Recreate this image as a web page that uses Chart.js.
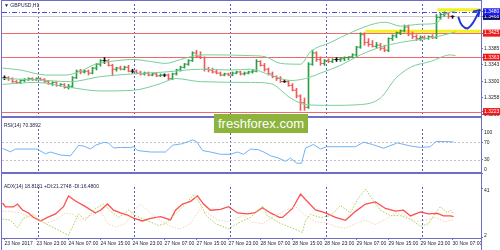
<!DOCTYPE html>
<html>
<head>
<meta charset="utf-8">
<script src="https://cdn.jsdelivr.net/npm/chart.js@4.4.1/dist/chart.umd.min.js"></script>
<style>
  html, body { margin: 0; padding: 0; background: #fff; }
  #wrap { position: relative; width: 500px; height: 250px; overflow: hidden; font-family: 'Liberation Sans', Arial, sans-serif; }
  canvas { position: absolute; left: 0; }
  #cMain { top: 0; }
  #cRsi { top: 121px; }
  #cAdx { top: 181px; }
  .lbl { position: absolute; left: 4px; font-size: 5px; line-height: 5px; color: #22224a; white-space: nowrap; }
  #logo { position: absolute; left: 214px; top: 114px; width: 94px; height: 19px; background: #8cb43c; color: #fff;
          font-size: 13px; line-height: 19px; text-align: center; }
</style>
</head>
<body>
<div id="wrap">
  <canvas id="cMain" width="500" height="121"></canvas>
  <canvas id="cRsi" width="500" height="60"></canvas>
  <canvas id="cAdx" width="500" height="69"></canvas>
  <div class="lbl" style="top:3px">▼ GBPUSD,H1</div>
  <div class="lbl" style="top:123px">RSI(14) 70.3892</div>
  <div class="lbl" style="top:184px">ADX(14) 18.8181 +DI:21.2748 -DI:16.4800</div>
  <div id="logo">freshforex.com</div>
</div>
<script>
// ---- data: H1 bars, 23 Nov 15:00 .. 30 Nov 07:00 (bar index 0..112) ----
const barOpen = [
  1.3310,1.3310,1.3308,1.3300,1.3298,1.3303,1.3305,1.3308,1.3305,1.3308,
  1.3305,1.3300,1.3295,1.3298,1.3290,1.3293,1.3285,1.3288,1.3310,1.3327,
  1.3325,1.3327,1.3322,1.3335,1.3345,1.3354,1.3354,1.3342,1.3332,1.3335,
  1.3332,1.3337,1.3327,1.3327,1.3322,1.3320,1.3322,1.3317,1.3320,1.3315,
  1.3317,1.3317,1.3308,1.3320,1.3330,1.3337,1.3345,1.3354,1.3374,1.3364,
  1.3362,1.3332,1.3330,1.3325,1.3322,1.3317,1.3320,1.3317,1.3322,1.3325,
  1.3320,1.3322,1.3325,1.3327,1.3352,1.3342,1.3332,1.3320,1.3313,1.3308,
  1.3300,1.3300,1.3290,1.3278,1.3263,1.3246,1.3234,1.3345,1.3374,1.3357,
  1.3347,1.3354,1.3352,1.3357,1.3357,1.3359,1.3362,1.3364,1.3369,1.3389,
  1.3421,1.3401,1.3396,1.3391,1.3394,1.3386,1.3381,1.3411,1.3418,1.3426,
  1.3431,1.3441,1.3423,1.3416,1.3411,1.3413,1.3411,1.3416,1.3413,1.3465,
  1.3473,1.3475,1.3468
];
const barHigh = [
  1.3315,1.3313,1.3310,1.3303,1.3305,1.3308,1.3310,1.3310,1.3310,1.3310,
  1.3308,1.3303,1.3300,1.3300,1.3295,1.3295,1.3293,1.3313,1.3330,1.3332,
  1.3330,1.3330,1.3337,1.3347,1.3357,1.3362,1.3357,1.3345,1.3337,1.3340,
  1.3340,1.3342,1.3332,1.3330,1.3327,1.3325,1.3325,1.3322,1.3322,1.3320,
  1.3320,1.3320,1.3322,1.3332,1.3340,1.3347,1.3357,1.3377,1.3381,1.3377,
  1.3364,1.3337,1.3335,1.3330,1.3325,1.3322,1.3322,1.3325,1.3327,1.3327,
  1.3325,1.3327,1.3330,1.3357,1.3354,1.3347,1.3335,1.3325,1.3315,1.3313,
  1.3305,1.3303,1.3295,1.3283,1.3266,1.3258,1.3349,1.3381,1.3377,1.3364,
  1.3357,1.3359,1.3359,1.3362,1.3362,1.3364,1.3364,1.3372,1.3391,1.3426,
  1.3426,1.3411,1.3406,1.3401,1.3399,1.3394,1.3413,1.3421,1.3428,1.3433,
  1.3446,1.3446,1.3428,1.3421,1.3418,1.3418,1.3418,1.3421,1.3473,1.3477,
  1.3480,1.3477,1.3470
];
const barLow = [
  1.3305,1.3303,1.3298,1.3295,1.3295,1.3300,1.3303,1.3303,1.3303,1.3303,
  1.3298,1.3293,1.3290,1.3288,1.3288,1.3283,1.3281,1.3285,1.3308,1.3320,
  1.3322,1.3317,1.3320,1.3330,1.3340,1.3347,1.3340,1.3315,1.3327,1.3330,
  1.3330,1.3325,1.3322,1.3320,1.3317,1.3317,1.3315,1.3315,1.3313,1.3313,
  1.3313,1.3305,1.3305,1.3317,1.3327,1.3335,1.3342,1.3352,1.3362,1.3359,
  1.3327,1.3325,1.3322,1.3320,1.3315,1.3315,1.3315,1.3315,1.3320,1.3317,
  1.3317,1.3320,1.3322,1.3325,1.3340,1.3327,1.3317,1.3310,1.3303,1.3298,
  1.3298,1.3288,1.3276,1.3258,1.3226,1.3226,1.3231,1.3342,1.3352,1.3342,
  1.3342,1.3349,1.3349,1.3352,1.3352,1.3354,1.3357,1.3362,1.3362,1.3386,
  1.3394,1.3391,1.3389,1.3386,1.3381,1.3377,1.3377,1.3406,1.3413,1.3421,
  1.3428,1.3418,1.3411,1.3406,1.3406,1.3409,1.3409,1.3411,1.3411,1.3460,
  1.3468,1.3463,1.3463
];
const barClose = [
  1.3310,1.3308,1.3300,1.3298,1.3303,1.3305,1.3308,1.3305,1.3308,1.3305,
  1.3300,1.3295,1.3298,1.3290,1.3293,1.3285,1.3288,1.3310,1.3327,1.3325,
  1.3327,1.3322,1.3335,1.3345,1.3354,1.3354,1.3342,1.3332,1.3335,1.3332,
  1.3337,1.3327,1.3327,1.3322,1.3320,1.3322,1.3317,1.3320,1.3315,1.3317,
  1.3317,1.3308,1.3320,1.3330,1.3337,1.3345,1.3354,1.3374,1.3364,1.3362,
  1.3332,1.3330,1.3325,1.3322,1.3317,1.3320,1.3317,1.3322,1.3325,1.3320,
  1.3322,1.3325,1.3327,1.3352,1.3342,1.3332,1.3320,1.3313,1.3308,1.3300,
  1.3300,1.3290,1.3278,1.3263,1.3246,1.3234,1.3345,1.3374,1.3357,1.3347,
  1.3354,1.3352,1.3357,1.3357,1.3359,1.3362,1.3364,1.3369,1.3389,1.3421,
  1.3401,1.3396,1.3391,1.3394,1.3386,1.3381,1.3411,1.3418,1.3426,1.3431,
  1.3441,1.3423,1.3416,1.3411,1.3413,1.3411,1.3416,1.3413,1.3465,1.3473,
  1.3475,1.3468,1.3468
];

// Bollinger bands, [bar index, price]
const bbUpper = [[-0.5,1.3335],[4,1.3330],[10.25,1.3317],[15.25,1.3317],[19,1.3327],[22.75,1.3345],[26.5,1.3352],
  [32.25,1.3357],[36.5,1.3352],[40.25,1.3347],[44,1.3357],[47.75,1.3367],[51.5,1.3369],[61.5,1.3367],[65.25,1.3364],
  [69,1.3347],[74,1.3345],[76.5,1.3377],[81.5,1.3401],[86.5,1.3426],[92.75,1.3450],[95.25,1.3453],[99,1.3443],
  [104,1.3448],[107.75,1.3450],[110.25,1.3475],[112.75,1.3482]];
const bbMiddle = [[-0.5,1.3308],[7.75,1.3305],[16.5,1.3300],[24,1.3313],[32.25,1.3320],[40.25,1.3325],[49,1.3332],
  [56.5,1.3330],[61.5,1.3332],[66.5,1.3317],[71.5,1.3303],[75.25,1.3308],[79,1.3322],[84,1.3342],[89,1.3369],
  [94,1.3389],[99,1.3401],[104,1.3409],[109,1.3418],[112.75,1.3428]];
const bbLower = [[-0.5,1.3293],[7.75,1.3298],[16.5,1.3285],[24,1.3276],[32.25,1.3278],[39,1.3295],[42.75,1.3308],
  [49,1.3300],[61.5,1.3298],[66.5,1.3295],[71.5,1.3258],[75.25,1.3241],[81.5,1.3239],[89,1.3241],[94,1.3258],
  [97.75,1.3308],[101.5,1.3337],[106.5,1.3352],[111.5,1.3369],[112.75,1.3367]];

// RSI(14), [bar index, value]
const rsiLine = [[-0.5,55.7],[1.5,48.2],[2.75,54.5],[7.75,54.5],[8.25,53.7],[10.25,43.7],[11.5,47.7],[14,40.8],
  [16.5,39.1],[18.5,62.6],[19.75,61.4],[21.5,54.5],[22.75,63.1],[24.75,69.5],[26,68.3],[27.25,56.8],[29,58],
  [31.5,58],[32.25,59.7],[33.25,51.1],[36.5,47.7],[40.25,47.7],[42,63.1],[44.5,66.6],[47,75.1],[48,71.7],
  [49.5,51.1],[51.5,47.7],[54,42.5],[56.5,42.5],[58.25,47.7],[59.75,42.5],[61.5,54.5],[63.5,52.8],[65.25,46],
  [66.5,39.1],[68.5,34],[70.25,26.6],[71.5,34],[73,22.5],[74.25,22],[75.25,56.8],[77.25,64.8],[79,54.5],
  [80.5,59.7],[84,59.7],[87.75,59.7],[89.75,70],[92,64.8],[94.75,56.3],[98.25,68.3],[101.5,61.4],[104,58],
  [106.5,59.7],[107.75,71.2],[110.25,71.7],[112.25,70.4]];

// ADX(14) main line, +DI, -DI, [bar index, value]
const adxLine = [[-0.5,29.5],[0.25,26.4],[2.25,26.4],[3.25,28.7],[4.5,24.0],[6,21.65],[7.25,18.1],[9,15.3],
  [10.75,18.1],[12.75,20.9],[14.75,26.6],[16,35.1],[17.75,31.1],[20.25,26.6],[22.75,21.65],[24,23.8],[25.75,28.7],
  [27.25,23.8],[29,21.65],[30.75,20.0],[32.25,17.6],[34.5,15.3],[36.5,17.4],[39,18.8],[41.5,16.2],[42.75,23.8],
  [44.5,28.7],[46.5,30.8],[48.25,35.1],[49.75,28.7],[51.5,23.8],[54,24.5],[56,26.6],[58.25,21.65],[60.75,20.9],
  [62.5,21.65],[64.5,25.7],[66.5,21.65],[68.75,18.1],[69.5,18.1],[72,25.2],[74,36.5],[75.25,32.3],[77.75,24.0],
  [80.25,21.65],[82.75,18.1],[85.25,15.8],[87.75,22.9],[90.25,28.7],[92.75,30.35],[95.25,25.2],[97.75,23.1],
  [99.75,23.8],[101.5,19.3],[104,22.4],[106,20.9],[108.25,21.3],[109.75,19.3],[111.5,19.3],[112.25,18.8]];
const plusDi = [[-0.5,16.9],[1.5,16.0],[3.25,9.8],[4.75,17.4],[7.25,20.45],[9,15.3],[16,4.0],[18.5,20.9],
  [20.25,16.0],[22.75,25.2],[24.75,28.7],[26.5,23.1],[28.5,18.1],[31,23.8],[32.75,19.5],[35.25,16.0],[38.5,11.8],
  [40.25,13.2],[42.75,20.9],[45.25,28.7],[47.25,35.8],[49,28.7],[50.25,20.2],[52.75,13.2],[56,9.1],[59,14.6],
  [61.5,18.1],[64.5,27.1],[65.75,19.3],[69,13.4],[74.5,6.3],[75.25,16],[76.5,20.45],[79,18.1],[81.5,19.5],
  [84,27.5],[86.5,21.65],[88.25,32.3],[90.25,40.5],[92,32.3],[94,23.8],[96.5,19.5],[99,19.5],[101.5,16.7],
  [104,11.0],[106,13.2],[107.75,21.65],[109,26.6],[110.75,21.65],[111.5,24.0],[112.25,21.3]];
const minusDi = [[-0.5,23.1],[1.5,22.9],[4,21.65],[7.25,17.4],[10.25,13.4],[12.75,16.0],[15.25,21.65],[17.25,20.2],
  [19,16.0],[21.5,19.5],[24,23.1],[25.75,13.4],[27.75,10.55],[30.25,13.2],[32.25,23.1],[34,28.7],[36.5,21.65],
  [39,16.0],[41.5,11.0],[44,8.9],[46.5,13.2],[49,25.2],[50.75,21.65],[53.25,16.0],[56.5,14.6],[59.75,20.2],
  [61.5,14.6],[64.5,13.2],[67.75,19.5],[70.25,23.8],[72.75,26.6],[75.25,19.5],[77.75,14.6],[80.25,13.9],
  [82.75,11.0],[85.25,9.6],[87.75,13.2],[90.25,16.0],[92.75,12.5],[95.25,16.7],[97.75,21.65],[100.25,19.5],
  [102.75,14.6],[105.25,16.0],[107.75,18.1],[110.25,14.6],[112.25,16.5]];

// axis labels and levels
const priceTicks = [1.3215, 1.3258, 1.3300, 1.3343, 1.3385, 1.3223, 1.3363, 1.3425, 1.3468, 1.3480];
const markedPrices = [1.3480, 1.3468, 1.3425, 1.3363, 1.3223];
const markColors = ['#1c1cf0', '#0b0b6e', '#f01818', '#f01818', '#f01818'];
const redLevels = [1.3425, 1.3363, 1.3223];
const alertLevel = 1.3480;
const bidLevel = 1.3468;
const zoneStart = [108.25, 90.25];
const zoneLevel = [1.3485, 1.3430];
const signalArrow = [[113.5, 1.3465], [115.75, 1.3437], [118.75, 1.3484]];
const rsiTicks = [100, 70, 30, 0];
const rsiLevels = [70, 30];
const adxTicks = [41, 2];
const timeTickBars = [0, 8, 16, 24, 32, 40, 48, 56, 64, 72, 80, 88, 96, 104, 112];
const timeLabels = ['23 Nov 2017', '23 Nov 23:00', '24 Nov 07:00', '24 Nov 15:00', '24 Nov 23:00',
  '27 Nov 07:00', '27 Nov 15:00', '27 Nov 23:00', '28 Nov 07:00', '28 Nov 15:00', '28 Nov 23:00',
  '29 Nov 07:00', '29 Nov 15:00', '29 Nov 23:00', '30 Nov 07:00'];
const dayStartBars = [9, 33, 57, 81, 105];

// ---- styles ----
const FONT = "'Liberation Sans', Arial, sans-serif";
const FRAME = '#6e6ec6';
const SEP = '#5a5abc';
const BB = '#78cf98';
const X_MIN = -0.625, X_MAX = 119.125;

const pairs = arr => arr.map(([x, y]) => ({ x, y }));
const barColor = i => barClose[i] > barOpen[i] ? '#2a9e46' : (barClose[i] < barOpen[i] ? '#f05a5a' : '#111111');
const markIndex = v => markedPrices.findIndex(p => Math.abs(p - v) < 1e-6);

function hline(ctx, x1, x2, y) {
  ctx.beginPath(); ctx.moveTo(x1, y); ctx.lineTo(x2, y); ctx.stroke();
}

function panel(id, opts) {
  return {
    id,
    beforeDatasetsDraw(chart) {
      const { ctx, chartArea: a, scales: { x } } = chart;
      ctx.save();
      ctx.lineWidth = 1;
      ctx.strokeStyle = SEP;
      ctx.setLineDash([2, 2]);
      dayStartBars.forEach(b => {
        const px = Math.round(x.getPixelForValue(b - 0.7)) + 0.5;
        ctx.beginPath(); ctx.moveTo(px, a.top); ctx.lineTo(px, a.bottom); ctx.stroke();
      });
      ctx.setLineDash([]);
      if (opts.under) opts.under(chart, ctx);
      ctx.restore();
    },
    afterDatasetsDraw(chart) {
      if (!opts.over) return;
      chart.ctx.save();
      opts.over(chart, chart.ctx);
      chart.ctx.restore();
    },
    afterDraw(chart) {
      const { ctx, chartArea: a } = chart;
      const h = chart.height;
      ctx.save();
      ctx.fillStyle = FRAME;
      ctx.fillRect(a.left - 1, 0, 1, h);
      ctx.fillRect(Math.round(a.right), 0, 1, h);
      if (opts.top) ctx.fillRect(a.left - 1, 0, a.right - a.left + 2, 1);
      ctx.fillRect(a.left - 1, Math.round(a.bottom) - (opts.thick ? 1 : 0), a.right - a.left + 2, opts.thick ? 2 : 1);
      ctx.restore();
    }
  };
}

function yAxis(extra) {
  return Object.assign({
    type: 'linear', position: 'right',
    afterFit: s => { s.width = 19; },
    grid: { drawOnChartArea: false, drawTicks: true, tickLength: 2, color: FRAME },
    border: { display: true, color: FRAME }
  }, extra);
}

const hiddenX = { type: 'linear', min: X_MIN, max: X_MAX, offset: false, display: false };

const common = {
  responsive: false, animation: false, devicePixelRatio: 1, events: [],
  plugins: { legend: { display: false }, tooltip: { enabled: false } }
};

// ---- main price panel ----
new Chart(document.getElementById('cMain'), {
  data: {
    datasets: [
      { type: 'line', data: pairs(bbUpper), borderColor: BB, borderWidth: 1, pointRadius: 0, cubicInterpolationMode: 'monotone' },
      { type: 'line', data: pairs(bbMiddle), borderColor: BB, borderWidth: 1, pointRadius: 0, cubicInterpolationMode: 'monotone' },
      { type: 'line', data: pairs(bbLower), borderColor: BB, borderWidth: 1, pointRadius: 0, cubicInterpolationMode: 'monotone' },
      { type: 'bar', data: barClose.map((c, i) => ({ x: i, y: [barLow[i], barHigh[i]] })),
        backgroundColor: c => barColor(c.dataIndex), barThickness: 1, grouped: false },
      { type: 'scatter', data: barOpen.map((o, i) => ({ x: i - 0.25, y: o })), pointStyle: 'line',
        pointRadius: 1, pointBorderWidth: 1, pointBorderColor: c => barColor(c.dataIndex) },
      { type: 'scatter', data: barClose.map((v, i) => ({ x: i + 0.25, y: v })), pointStyle: 'line',
        pointRadius: 1, pointBorderWidth: 1, pointBorderColor: c => barColor(c.dataIndex) }
    ]
  },
  options: Object.assign({}, common, {
    layout: { padding: { left: 2, top: 2, right: 0, bottom: 1 }, autoPadding: false },
    scales: {
      x: hiddenX,
      y: yAxis({
        min: 1.3209, max: 1.3500,
        afterBuildTicks: s => { s.ticks = priceTicks.map(v => ({ value: v })); },
        ticks: {
          autoSkip: false, padding: 1, font: { family: FONT, size: 5 },
          color: c => markIndex(c.tick.value) >= 0 ? '#ffffff' : '#222222',
          showLabelBackdrop: c => markIndex(c.tick.value) >= 0,
          backdropColor: c => markIndex(c.tick.value) >= 0 ? markColors[markIndex(c.tick.value)] : 'rgba(0,0,0,0)',
          backdropPadding: { top: 0.5, bottom: 0.5, left: 1, right: 3 },
          callback: v => v.toFixed(4)
        }
      })
    }
  }),
  plugins: [panel('mainPanel', {
    top: true, thick: true,
    under(chart, ctx) {
      const { chartArea: a, scales: { x, y } } = chart;
      ctx.lineWidth = 1;
      ctx.strokeStyle = '#c9c9c9';
      hline(ctx, a.left, a.right, Math.round(y.getPixelForValue(bidLevel)) + 0.5);
      ctx.strokeStyle = '#f06868';
      redLevels.forEach(v => hline(ctx, a.left, a.right, Math.round(y.getPixelForValue(v)) + 0.5));
      ctx.strokeStyle = '#4a4ae6';
      ctx.setLineDash([5, 2, 1, 2]);
      hline(ctx, a.left, a.right, Math.round(y.getPixelForValue(alertLevel)) + 0.5);
      ctx.setLineDash([]);
      ctx.strokeStyle = '#f4f21e';
      ctx.lineWidth = 3;
      zoneStart.forEach((s, k) => hline(ctx, x.getPixelForValue(s), a.right, y.getPixelForValue(zoneLevel[k])));
    },
    over(chart, ctx) {
      const { scales: { x, y } } = chart;
      const p = signalArrow.map(([i, v]) => [x.getPixelForValue(i), y.getPixelForValue(v)]);
      ctx.strokeStyle = '#2238d2';
      ctx.lineWidth = 2;
      ctx.lineCap = 'round';
      ctx.lineJoin = 'round';
      ctx.beginPath();
      ctx.moveTo(p[0][0], p[0][1]);
      ctx.quadraticCurveTo(p[0][0] + 3, p[1][1], p[1][0], p[1][1]);
      ctx.quadraticCurveTo(p[1][0] + 5, p[1][1] - 2, p[2][0], p[2][1]);
      ctx.stroke();
      const ang = Math.atan2(p[2][1] - p[1][1] + 6, p[2][0] - p[1][0]);
      [-0.6, 0.6].forEach(d => {
        ctx.beginPath();
        ctx.moveTo(p[2][0], p[2][1]);
        ctx.lineTo(p[2][0] - 6 * Math.cos(ang + d), p[2][1] - 6 * Math.sin(ang + d));
        ctx.stroke();
      });
    }
  })]
});

// ---- RSI panel ----
new Chart(document.getElementById('cRsi'), {
  data: { datasets: [
    { type: 'line', data: pairs(rsiLine), borderColor: '#6fb2f4', borderWidth: 1, pointRadius: 0 }
  ] },
  options: Object.assign({}, common, {
    layout: { padding: { left: 2, top: 0, right: 0, bottom: 1 }, autoPadding: false },
    scales: {
      x: hiddenX,
      y: yAxis({
        min: 0, max: 100,
        afterBuildTicks: s => { s.ticks = rsiTicks.map(v => ({ value: v })); },
        ticks: {
          autoSkip: false, padding: 1, color: '#222222', font: { family: FONT, size: 5, lineHeight: 1.4 },
          callback: v => v === 100 ? ['', '100'] : (v === 0 ? ['0', ''] : String(v))
        }
      })
    }
  }),
  plugins: [panel('rsiPanel', {
    thick: true,
    under(chart, ctx) {
      const { chartArea: a, scales: { y } } = chart;
      ctx.strokeStyle = '#c4c4c4';
      ctx.lineWidth = 1;
      ctx.setLineDash([2, 2]);
      rsiLevels.forEach(v => hline(ctx, a.left, a.right, Math.round(y.getPixelForValue(v)) + 0.5));
    }
  })]
});

// ---- ADX panel ----
new Chart(document.getElementById('cAdx'), {
  data: { datasets: [
    { type: 'line', data: pairs(minusDi), borderColor: '#f4d2b2', borderWidth: 1, borderDash: [1.5, 1.5], pointRadius: 0 },
    { type: 'line', data: pairs(plusDi), borderColor: '#a8cf4e', borderWidth: 1, borderDash: [1.5, 1.5], pointRadius: 0 },
    { type: 'line', data: pairs(adxLine), borderColor: '#ff4e4e', borderWidth: 1.3, pointRadius: 0 }
  ] },
  options: Object.assign({}, common, {
    layout: { padding: { left: 2, top: 0, right: 0, bottom: 0 }, autoPadding: false },
    scales: {
      x: {
        type: 'linear', min: X_MIN, max: X_MAX, offset: false,
        afterBuildTicks: s => { s.ticks = timeTickBars.map(v => ({ value: v })); },
        afterFit: s => { s.height = 12; },
        grid: { drawOnChartArea: false, drawTicks: true, tickLength: 2, color: FRAME },
        border: { display: true, color: FRAME },
        ticks: {
          autoSkip: false, maxRotation: 0, minRotation: 0, align: 'start', padding: 1,
          color: '#222244', font: { family: FONT, size: 5 },
          callback: (v, idx) => timeLabels[idx]
        }
      },
      y: yAxis({
        min: 1.85, max: 42.15,
        afterBuildTicks: s => { s.ticks = adxTicks.map(v => ({ value: v })); },
        ticks: {
          autoSkip: false, padding: 1, color: '#222222', font: { family: FONT, size: 5, lineHeight: 1 },
          callback: v => v === 41 ? ['', '41'] : ['2', '']
        }
      })
    }
  }),
  plugins: [panel('adxPanel', {})]
});
</script>
</body>
</html>
